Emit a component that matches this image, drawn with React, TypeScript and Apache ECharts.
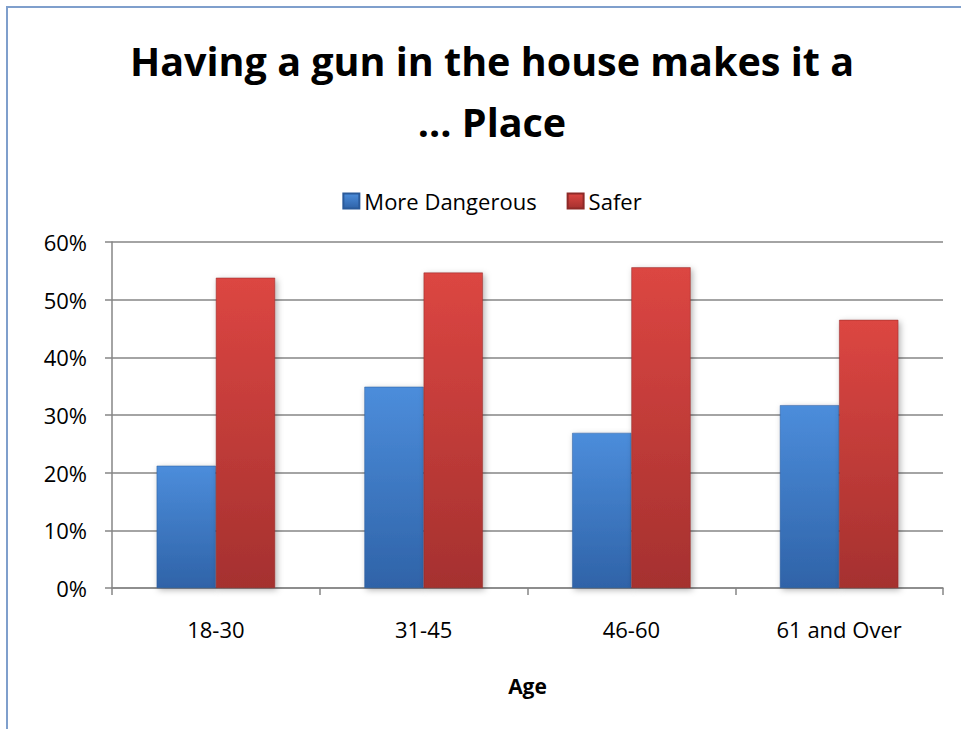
import React, { useEffect, useRef } from "react";
import * as echarts from "echarts";

const categories = ["18-30", "31-45", "46-60", "61 and Over"];
const moreDangerous = [21.2, 34.9, 26.9, 31.7];
const safer = [53.8, 54.7, 55.6, 46.5];
const titleText = "Having a gun in the house makes it a\n... Place";
const xAxisName = "Age";

export default function App() {
  const ref = useRef<HTMLDivElement>(null);
  useEffect(() => {
    if (!ref.current) return;
    const chart = echarts.init(ref.current, null, { renderer: "svg" });
    const font = "'Open Sans', Lato, sans-serif";
    const blueGrad = new echarts.graphic.LinearGradient(0, 0, 0, 1, [
      { offset: 0, color: "#4C8DDB" },
      { offset: 1, color: "#2F63A8" },
    ]);
    const redGrad = new echarts.graphic.LinearGradient(0, 0, 0, 1, [
      { offset: 0, color: "#DC4642" },
      { offset: 1, color: "#A5312F" },
    ]);
    chart.setOption({
      animation: false,
      backgroundColor: "#ffffff",
      graphic: [
        {
          type: "rect",
          shape: { x: 7, y: 7, width: 1200, height: 900 },
          style: { fill: "none", stroke: "#7F9FCC", lineWidth: 2 },
          silent: true,
          z: -1,
        },
      ],
      title: {
        text: titleText,
        left: "center",
        top: 25,
        textStyle: {
          fontFamily: font,
          fontWeight: "bold",
          fontSize: 39.5,
          lineHeight: 61,
          color: "#000000",
        },
      },
      legend: {
        data: ["More Dangerous", "Safer"],
        left: "center",
        top: 185,
        icon: "rect",
        itemWidth: 16,
        itemHeight: 15,
        itemGap: 30,
        textStyle: { fontFamily: font, fontSize: 22, color: "#000000" },
      },
      grid: { left: 112, right: 41, top: 242, bottom: 141, containLabel: false },
      xAxis: {
        type: "category",
        data: categories,
        name: xAxisName,
        nameLocation: "middle",
        nameGap: 87,
        nameTextStyle: { fontFamily: font, fontWeight: "bold", fontSize: 21, color: "#000" },
        axisLine: { lineStyle: { color: "#868686", width: 1.5 } },
        axisTick: { show: true, length: 7, lineStyle: { color: "#868686", width: 1.5 } },
        axisLabel: { margin: 30, fontFamily: font, fontSize: 22, color: "#000" },
      },
      yAxis: {
        type: "value",
        min: 0,
        max: 60,
        interval: 10,
        axisLine: { show: true, lineStyle: { color: "#868686", width: 1.5 } },
        axisTick: { show: true, length: 7, lineStyle: { color: "#868686", width: 1.5 } },
        splitLine: { lineStyle: { color: "#868686", width: 1.5 } },
        axisLabel: {
          formatter: "{value}%",
          margin: 25,
          fontFamily: font,
          fontSize: 22,
          color: "#000",
        },
      },
      series: [
        {
          name: "More Dangerous",
          type: "bar",
          data: moreDangerous,
          barGap: "0%",
          barCategoryGap: "43%",
          itemStyle: {
            color: blueGrad,
            borderColor: "#2A5A9A",
            borderWidth: 0.5,
            shadowColor: "rgba(0,0,0,0.3)",
            shadowBlur: 6,
            shadowOffsetX: 2,
            shadowOffsetY: 2,
          },
        },
        {
          name: "Safer",
          type: "bar",
          data: safer,
          itemStyle: {
            color: redGrad,
            borderColor: "#8E2A28",
            borderWidth: 0.5,
            shadowColor: "rgba(0,0,0,0.3)",
            shadowBlur: 6,
            shadowOffsetX: 2,
            shadowOffsetY: 2,
          },
        },
      ],
    });
    return () => chart.dispose();
  }, []);
  return (
    <div
      ref={ref}
      style={{ position: "fixed", left: 0, top: 0, width: 984, height: 729 }}
    />
  );
}
